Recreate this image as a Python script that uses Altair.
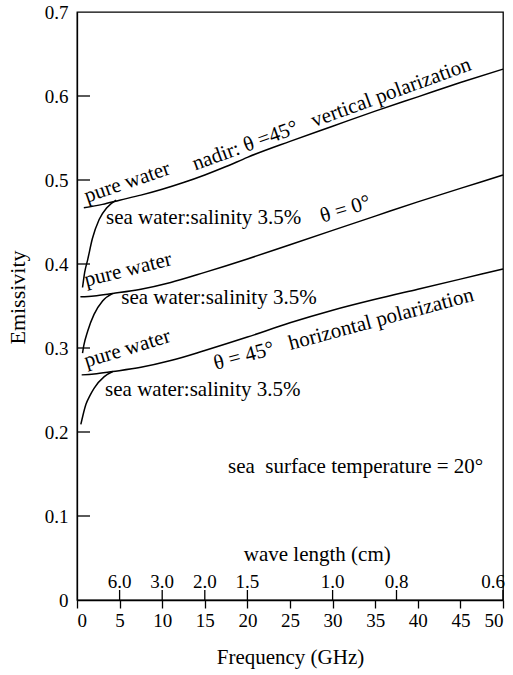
import altair as alt
import pandas as pd

# ---- data ----
V_PURE_F = [0.8, 3, 5, 7.5, 10, 12.5, 15, 17.5, 20, 25, 30, 35, 40, 45, 50]
V_PURE_E = [0.467, 0.471, 0.476, 0.482, 0.489, 0.497, 0.506, 0.516, 0.527, 0.546, 0.564, 0.582, 0.599, 0.616, 0.632]
V_SEA_F = [0.65, 0.9, 1.25, 1.8, 2.6, 3.5, 4.6]
V_SEA_E = [0.372, 0.39, 0.405, 0.43, 0.453, 0.467, 0.476]

N_PURE_F = [0.4, 2, 4.2, 7.5, 11, 15, 20, 25, 30, 35, 40, 45, 50]
N_PURE_E = [0.361, 0.362, 0.365, 0.37, 0.378, 0.39, 0.406, 0.423, 0.44, 0.457, 0.474, 0.49, 0.506]
N_SEA_F = [0.65, 0.8, 1.25, 2.0, 3.0, 4.2]
N_SEA_E = [0.294, 0.303, 0.32, 0.34, 0.356, 0.365]

H_PURE_F = [0.55, 2, 4.2, 7.5, 11, 15, 20, 25, 30, 35, 40, 45, 50]
H_PURE_E = [0.268, 0.269, 0.272, 0.277, 0.285, 0.297, 0.313, 0.33, 0.345, 0.358, 0.37, 0.382, 0.394]
H_SEA_F = [0.45, 0.7, 1.05, 1.5, 2.0, 3.2, 4.2]
H_SEA_E = [0.209, 0.22, 0.233, 0.243, 0.252, 0.266, 0.272]

FREQ_TICKS = [0, 5, 10, 15, 20, 25, 30, 35, 40, 45, 50]
EMIS_TICKS = [0, 0.1, 0.2, 0.3, 0.4, 0.5, 0.6, 0.7]
INNER_Y_TICKS = [0.1, 0.2, 0.3, 0.4, 0.5, 0.6]
WAVE_FREQ = [5, 10, 15, 20, 30, 37.5, 50]
WAVE_LABELS = ["6.0", "3.0", "2.0", "1.5", "1.0", "0.8", "0.6"]

NB = "\u00a0"
# annotations: text, position in data units, rotation
CENTER_TEXT = [
    ("pure water", 5.9, 0.497, 341),
    ("nadir: \u03b8 =45\u00b0" + NB * 3 + "vertical polarization", 29.9, 0.578, 340),
    ("\u03b8 = 0\u00b0", 31.5, 0.465, 343),
    ("pure water", 6.0, 0.393, 346),
    ("pure water", 5.9, 0.299, 343),
    ("\u03b8 = 45\u00b0" + NB * 3 + "horizontal polarization", 31.3, 0.322, 345),
    ("sea" + NB + NB + "surface temperature = 20\u00b0", 32.7, 0.158, 0),
    ("wave length (cm)", 28.2, 0.054, 0),
]
LEFT_TEXT = [
    ("sea water:salinity 3.5%", 3.4, 0.455),
    ("sea water:salinity 3.5%", 5.2, 0.360),
    ("sea water:salinity 3.5%", 3.3, 0.250),
]

FONT = "Liberation Serif"
W, H = 426, 588

rows = []
for name, fs, es in [("v_pure", V_PURE_F, V_PURE_E), ("v_sea", V_SEA_F, V_SEA_E),
                     ("n_pure", N_PURE_F, N_PURE_E), ("n_sea", N_SEA_F, N_SEA_E),
                     ("h_pure", H_PURE_F, H_PURE_E), ("h_sea", H_SEA_F, H_SEA_E)]:
    for f, e in zip(fs, es):
        rows.append({"series": name, "f": f, "e": e})
curves_df = pd.DataFrame(rows)

xscale = alt.Scale(domain=[0, 50], nice=False, zero=False)
yscale = alt.Scale(domain=[0, 0.7], nice=False)

x_axis = alt.Axis(values=FREQ_TICKS, tickSize=8, tickColor="black", tickWidth=1.3,
                  labelFontSize=19, labelFont=FONT, labelColor="black", labelPadding=3,
                  grid=False, domainColor="black", domainWidth=1.3,
                  title="Frequency (GHz)", titleFont=FONT, titleFontSize=21,
                  titleFontWeight="normal", titleColor="black", titlePadding=16)
y_axis = alt.Axis(values=EMIS_TICKS, ticks=False, labelFontSize=19, labelFont=FONT,
                  labelColor="black", labelPadding=9, grid=False,
                  labelExpr="datum.value == 0 ? '0' : format(datum.value, '.1f')",
                  domainColor="black", domainWidth=1.3,
                  title="Emissivity", titleFont=FONT, titleFontSize=22,
                  titleFontWeight="normal", titleColor="black", titleX=-48, titleY=285)

curves = alt.Chart(curves_df).mark_line(color="black", strokeWidth=1.5, interpolate="monotone").encode(
    x=alt.X("f:Q", scale=xscale, axis=x_axis),
    y=alt.Y("e:Q", scale=yscale, axis=y_axis),
    detail="series:N",
)

ytick_df = pd.DataFrame({"e": INNER_Y_TICKS})
yticks = alt.Chart(ytick_df).mark_rule(color="black", strokeWidth=1.3).encode(
    y=alt.Y("e:Q", scale=yscale), x=alt.value(0), x2=alt.value(13))

wave_df = pd.DataFrame({"f": WAVE_FREQ, "label": WAVE_LABELS})
wticks = alt.Chart(wave_df).mark_rule(color="black", strokeWidth=1.3).encode(
    x=alt.X("f:Q", scale=xscale), y=alt.value(H - 10), y2=alt.value(H))
wlabels = alt.Chart(wave_df.iloc[:-1]).mark_text(font=FONT, fontSize=19, color="black",
                                                 align="center", baseline="middle").encode(
    x=alt.X("f:Q", scale=xscale), y=alt.value(H - 18), text="label:N")
wlabel_last = alt.Chart(wave_df.iloc[-1:]).mark_text(font=FONT, fontSize=19, color="black",
                                                     align="right", baseline="middle", dx=2).encode(
    x=alt.X("f:Q", scale=xscale), y=alt.value(H - 18), text="label:N")

ctext_df = pd.DataFrame(CENTER_TEXT, columns=["text", "f", "e", "angle"])
ctext = alt.Chart(ctext_df).mark_text(font=FONT, fontSize=21, color="black",
                                      align="center", baseline="middle").encode(
    x=alt.X("f:Q", scale=xscale), y=alt.Y("e:Q", scale=yscale),
    text="text:N", angle=alt.Angle("angle:Q", scale=None))

ltext_df = pd.DataFrame(LEFT_TEXT, columns=["text", "f", "e"])
ltext = alt.Chart(ltext_df).mark_text(font=FONT, fontSize=21, color="black",
                                      align="left", baseline="middle").encode(
    x=alt.X("f:Q", scale=xscale), y=alt.Y("e:Q", scale=yscale), text="text:N")

chart = alt.layer(curves, yticks, wticks, wlabels, wlabel_last, ctext, ltext).properties(
    width=W, height=H, autosize="none",
    padding={"left": 77, "top": 12, "right": 10, "bottom": 75},
    background="white",
).configure_view(stroke="black", strokeWidth=1.3)

chart.save("out.html", embed_options={"renderer": "svg", "actions": False})
